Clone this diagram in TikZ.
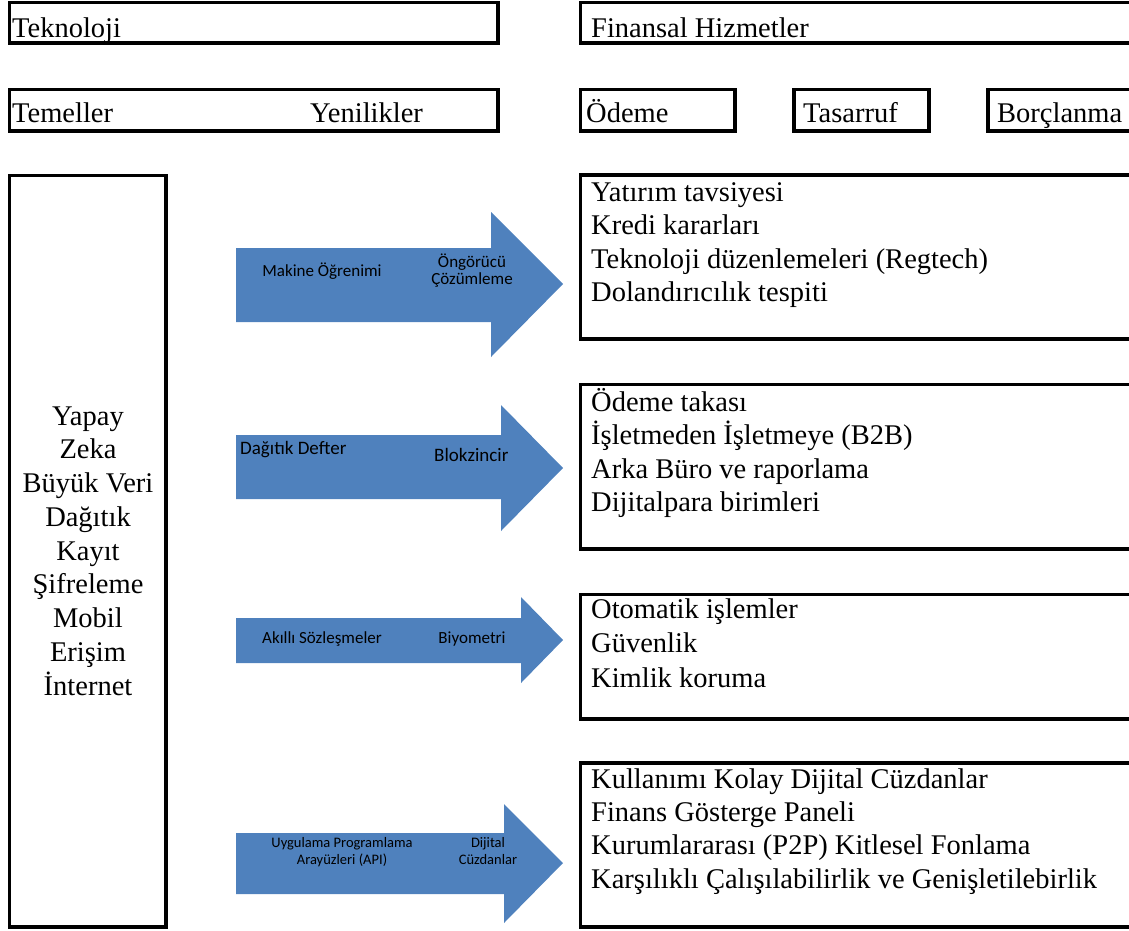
\documentclass[tikz,border=0pt]{standalone}
\usepackage{fontspec}
\setmainfont{Liberation Serif}
\newfontfamily\calfont{Carlito}
\definecolor{arrowblue}{HTML}{4F81BD}
\tikzset{
  box/.style={draw=black, line width=3.4pt, fill=none},
  btxt/.style={font=\fontsize{28.5}{33.5}\selectfont, inner sep=0pt, anchor=base west},
  ctxt/.style={font=\fontsize{28.5}{33.5}\selectfont, inner sep=0pt, anchor=base},
  arr/.style={fill=arrowblue},
  atxt/.style={font=\calfont\fontsize{17}{18}\selectfont, inner sep=0pt, anchor=base, text=black},
  atxtb/.style={font=\calfont\fontsize{19}{20}\selectfont, inner sep=0pt, anchor=base west, text=black},
  atxts/.style={font=\calfont\fontsize{14.5}{17}\selectfont, inner sep=0pt, anchor=base, text=black},
}
\begin{document}
\begin{tikzpicture}[x=1pt,y=-1pt]
\useasboundingbox (0,0) rectangle (1129,930);
\clip (0,0) rectangle (1129,930);
% header boxes
\draw[box] (9.5,2.5) rectangle (498,43);
\draw[box] (580.5,2.5) rectangle (1140,43);
\draw[box] (9.5,89.5) rectangle (498,131);
\draw[box] (580.5,89.5) rectangle (735,131);
\draw[box] (794,89.5) rectangle (929,131);
\draw[box] (988,89.5) rectangle (1140,131);
\node[btxt] (tek) at (12,37) {Teknoloji};
\node[btxt] (fin) at (591,37) {Finansal Hizmetler};
\node[btxt] (tem) at (12,122) {Temeller};
\node[btxt] (yen) at (310,122) {Yenilikler};
\node[btxt] (ode) at (586,122) {Ödeme};
\node[btxt] (tas) at (803,122) {Tasarruf};
\node[btxt] (bor) at (997,122) {Borçlanma};
% left column
\draw[box] (9.5,175.5) rectangle (166,927);
\foreach \t [count=\i from 0] in {Yapay,Zeka,Büyük Veri,Dağıtık,Kayıt,Şifreleme,Mobil,Erişim,İnternet}
  \node[ctxt] (l-\i) at (88,425+33.75*\i) {\t};
% right boxes
\draw[box] (580.5,175) rectangle (1140,339);
\draw[box] (580.5,384.5) rectangle (1140,549);
\draw[box] (580.5,594.5) rectangle (1140,719);
\draw[box] (580.5,763) rectangle (1140,927);
\foreach \t [count=\i from 0] in {Yatırım tavsiyesi,Kredi kararları,Teknoloji düzenlemeleri (Regtech),Dolandırıcılık tespiti}
  \node[btxt] (ra-\i) at (591,201+33.5*\i) {\t};
\foreach \t [count=\i from 0] in {Ödeme takası,İşletmeden İşletmeye (B2B),Arka Büro ve raporlama,Dijitalpara birimleri}
  \node[btxt] (rb-\i) at (591,411+33.5*\i) {\t};
\foreach \t [count=\i from 0] in {Otomatik işlemler,Güvenlik,Kimlik koruma}
  \node[btxt] (rc-\i) at (591,618+34.5*\i) {\t};
\foreach \t [count=\i from 0] in {Kullanımı Kolay Dijital Cüzdanlar,Finans Gösterge Paneli,Kurumlararası (P2P) Kitlesel Fonlama,Karşılıklı Çalışılabilirlik ve Genişletilebirlik}
  \node[btxt] (rd-\i) at (591,788+33.4*\i) {\t};
% arrows
\fill[arr] (236,248) -- (491,248) -- (491,212) -- (563,284) -- (491,357) -- (491,322) -- (236,322) -- cycle;
\fill[arr] (236,435) -- (501,435) -- (501,405) -- (563,468) -- (501,531) -- (501,499) -- (236,499) -- cycle;
\fill[arr] (236,618) -- (521,618) -- (521,597) -- (563,640) -- (521,683) -- (521,663) -- (236,663) -- cycle;
\fill[arr] (236,833) -- (504,833) -- (504,804) -- (563,863) -- (504,923) -- (504,894) -- (236,894) -- cycle;
% arrow labels
\node[atxt] (a1l) at (322,276) {Makine Öğrenimi};
\node[atxt] (a1r1) at (472,267) {Öngörücü};
\node[atxt] (a1r2) at (472,284) {Çözümleme};
\node[atxtb] (a2l) at (240,454) {Dağıtık Defter};
\node[atxtb] (a2r) at (434,461) {Blokzincir};
\node[atxt] (a3l) at (322,643) {Akıllı Sözleşmeler};
\node[atxt] (a3r) at (472,643) {Biyometri};
\node[atxts] (a4l1) at (342,847) {Uygulama Programlama};
\node[atxts] (a4l2) at (342,864) {Arayüzleri (API)};
\node[atxts] (a4r1) at (488,847) {Dijital};
\node[atxts] (a4r2) at (488,864) {Cüzdanlar};
\end{tikzpicture}
\end{document}
